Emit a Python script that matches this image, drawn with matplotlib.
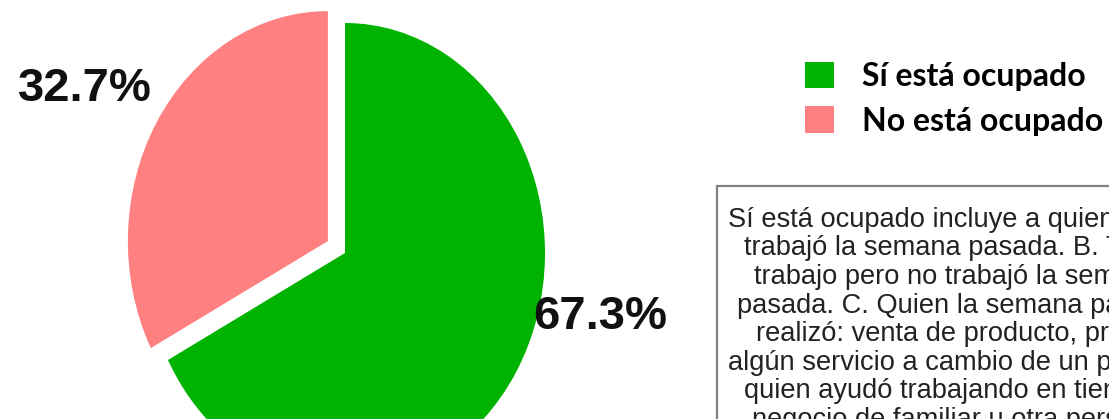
import numpy as np
import matplotlib.pyplot as plt
from matplotlib.patches import Rectangle

# data
categories = ["Sí está ocupado", "No está ocupado"]
values = [67.3, 32.7]
colors = ["#00B300", "#FF8080"]
note_lines = [
    "Sí está ocupado incluye a quien: A. Sí",
    "trabajó la semana pasada. B. Tiene",
    "trabajo pero no trabajó la semana",
    "pasada. C. Quien la semana pasada",
    "realizó: venta de producto, prestó",
    "algún servicio a cambio de un pago, o",
    "quien ayudó trabajando en tienda o",
    "negocio de familiar u otra persona",
]

W, H = 1109, 419
fig = plt.figure(figsize=(W / 100, H / 100), dpi=100)

# pie axes: 1 unit = 200 px wide, 230 px tall, centre at (345, 166) px
cx, cy, rx, ry = 345, 166, 200, 230
xl, yl = 1.7, 1.3
ax = fig.add_axes([(cx - xl * rx) / W, (cy - yl * ry) / H, 2 * xl * rx / W, 2 * yl * ry / H])
labels = ["%.1f%%" % v for v in values]
wedges, texts = ax.pie(values, colors=colors, explode=[0, 0.1], startangle=90,
                       counterclock=False, labels=labels,
                       wedgeprops=dict(linewidth=0))
ax.set_aspect("auto")
ax.set_xlim(-xl, xl)
ax.set_ylim(-yl, yl)
ax.axis("off")

label_pos = [(1.275, -0.33), (-1.30, 0.662)]
for t, (x, y) in zip(texts, label_pos):
    t.set_position((x, y))
    t.set_ha("center")
    t.set_va("baseline")
    t.set_fontsize(34)
    t.set_fontweight("bold")
    t.set_family("Liberation Sans")
    t.set_color("#111111")

# legend
fig.legend(wedges, categories, loc="upper left", bbox_to_anchor=(805 / W, 1 - 62 / H),
           frameon=False, borderpad=0, borderaxespad=0,
           handlelength=0.9, handleheight=0.88, handletextpad=0.9, labelspacing=0.48,
           prop=dict(family="Lato", weight="bold", size=23))

# note box
fig.add_artist(Rectangle((717 / W, -0.1), 450 / W, (1 - 186 / H) + 0.1,
                         transform=fig.transFigure, facecolor="white",
                         edgecolor="#808080", linewidth=1.6))
fig.text(958 / W, 1 - 427 / H, "\n".join(note_lines), ha="center", va="baseline",
         multialignment="center", fontsize=19.6, family="Liberation Sans",
         color="#222222", linespacing=1.13)

fig.savefig("out.png", dpi=100)
